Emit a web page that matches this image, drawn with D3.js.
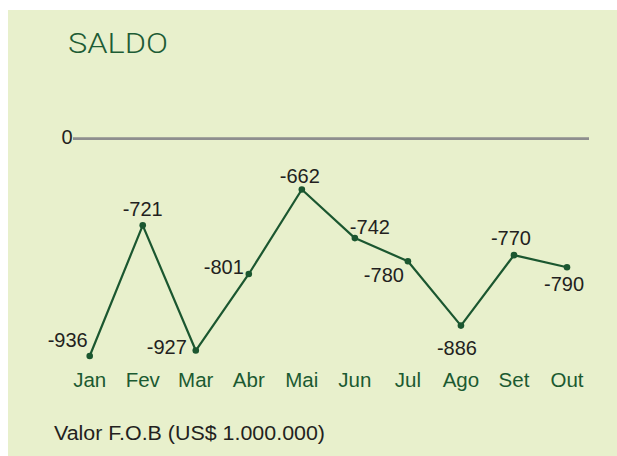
<!DOCTYPE html>
<html>
<head>
<meta charset="utf-8">
<script src="https://cdn.jsdelivr.net/npm/d3@7"></script>
<style>
  html, body { margin: 0; padding: 0; background: #ffffff; }
  svg { display: block; }
</style>
</head>
<body>
<svg id="chart" width="617" height="456"></svg>
<script>
// ---- data ----
const months = ["Jan", "Fev", "Mar", "Abr", "Mai", "Jun", "Jul", "Ago", "Set", "Out"];
const saldo  = [-936, -721, -927, -801, -662, -742, -780, -886, -770, -790];
const zeroTickLabel = "0";
const titleText = "SALDO";
const unitText = "Valor F.O.B (US$ 1.000.000)";

// ---- label placement (styling) ----
const labelPlace = {
  Jan: {anchor: "end",    dx: -2, dy: -9},
  Fev: {anchor: "middle", dx: 0,  dy: -9},
  Mar: {anchor: "end",    dx: -9, dy: 3},
  Abr: {anchor: "end",    dx: -5, dy: 0},
  Mai: {anchor: "middle", dx: -2, dy: -7},
  Jun: {anchor: "start",  dx: -5, dy: -4},
  Jul: {anchor: "end",    dx: -4, dy: 21},
  Ago: {anchor: "middle", dx: -4, dy: 29},
  Set: {anchor: "middle", dx: -3, dy: -10},
  Out: {anchor: "middle", dx: -3, dy: 24}
};

const W = 617, H = 456;
const svg = d3.select("#chart");

const bg = "#e8f0cc";
const green = "#1b5730";
const monthGreen = "#1b5a31";
const textDark = "#231f20";
const font = "'Liberation Sans', Arial, sans-serif";

// panel
svg.append("rect").attr("x", 8).attr("y", 10).attr("width", W - 8).attr("height", H - 10).attr("fill", bg);

// scales
const x = d3.scalePoint().domain(months).range([89.7, 567]);
const y = d3.scaleLinear().domain([-936, -662]).range([356, 189.5]);
const zeroLineY = 138.7;

// title
svg.append("text").attr("x", 68).attr("y", 52.5)
  .attr("font-family", "Roboto, 'Open Sans', sans-serif").attr("font-weight", 300)
  .attr("font-size", 28).attr("fill", "#1d5c35")
  .attr("textLength", 100).attr("lengthAdjust", "spacingAndGlyphs")
  .text(titleText);

// zero line
svg.append("line").attr("x1", 73).attr("x2", 589).attr("y1", zeroLineY).attr("y2", zeroLineY)
  .attr("stroke", "#8e8e8e").attr("stroke-width", 2.7);
svg.append("text").attr("x", 72.5).attr("y", zeroLineY + 5)
  .attr("text-anchor", "end").attr("font-family", font).attr("font-size", 20)
  .attr("fill", textDark).text(zeroTickLabel);

// line
const line = d3.line().x((d, i) => x(months[i])).y(d => y(d));
svg.append("path").datum(saldo).attr("d", line)
  .attr("fill", "none").attr("stroke", green).attr("stroke-width", 2.2)
  .attr("stroke-linejoin", "round");

svg.selectAll("circle.pt").data(saldo).enter().append("circle")
  .attr("class", "pt")
  .attr("cx", (d, i) => x(months[i])).attr("cy", d => y(d)).attr("r", 3.3)
  .attr("fill", green);

// value labels (plain hyphen-minus as in the reference)
svg.selectAll("text.val").data(saldo).enter().append("text")
  .attr("class", "val")
  .attr("x", (d, i) => x(months[i]) + labelPlace[months[i]].dx)
  .attr("y", (d, i) => y(d) + labelPlace[months[i]].dy)
  .attr("text-anchor", (d, i) => labelPlace[months[i]].anchor)
  .attr("font-family", font).attr("font-size", 20).attr("fill", textDark)
  .text(d => String(d));

// month labels
svg.selectAll("text.mon").data(months).enter().append("text")
  .attr("class", "mon")
  .attr("x", d => x(d)).attr("y", 387)
  .attr("text-anchor", "middle")
  .attr("font-family", font).attr("font-size", 20.5).attr("fill", monthGreen)
  .text(d => d);

// unit text
svg.append("text").attr("x", 54).attr("y", 439.5)
  .attr("font-family", font).attr("font-size", 20).attr("fill", textDark)
  .attr("textLength", 271).attr("lengthAdjust", "spacingAndGlyphs")
  .text(unitText);
</script>
</body>
</html>
